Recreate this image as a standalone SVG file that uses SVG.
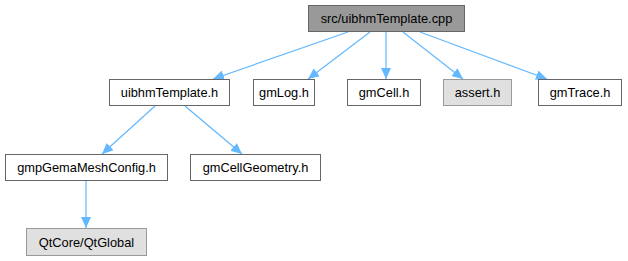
<svg xmlns="http://www.w3.org/2000/svg" width="628" height="261" viewBox="0 0 628 261">
<style>
.n rect{fill:#ffffff;stroke:#666666;stroke-width:1}
.g rect{fill:#e0e0e0;stroke:#999999;stroke-width:1}
.t rect{fill:#999999;stroke:#666666;stroke-width:1}
text{font-family:"Liberation Sans",Arial,sans-serif;font-size:12.8px;fill:#000000;text-anchor:middle}
.e line{stroke:#63b8ff;stroke-width:1.2;marker-end:url(#ah)}
</style>
<defs>
<marker id="ah" markerUnits="userSpaceOnUse" markerWidth="12" markerHeight="10" refX="11" refY="5" orient="auto">
<path d="M0,0 L11,5 L0,10 z" fill="#63b8ff"/>
</marker>
</defs>
<rect width="628" height="261" fill="#ffffff"/>
<g id="edges" class="e">
<line x1="348" y1="32" x2="213" y2="79"/>
<line x1="370" y1="32" x2="308" y2="79"/>
<line x1="386" y1="32" x2="386" y2="79"/>
<line x1="403" y1="32" x2="463" y2="79"/>
<line x1="420" y1="32" x2="547" y2="79"/>
<line x1="155" y1="106" x2="102" y2="154"/>
<line x1="185" y1="106" x2="242" y2="154"/>
<line x1="86" y1="181" x2="86" y2="228"/>
</g>
<g id="src_uibhmTemplate_cpp" class="t"><rect x="308.5" y="5.5" width="156" height="26"/><text x="386.5" y="23">src/uibhmTemplate.cpp</text></g>
<g id="uibhmTemplate_h" class="n"><rect x="109.5" y="79.5" width="120" height="26"/><text x="169.5" y="97">uibhmTemplate.h</text></g>
<g id="gmLog_h" class="n"><rect x="253.5" y="79.5" width="61" height="26"/><text x="284" y="97">gmLog.h</text></g>
<g id="gmCell_h" class="n"><rect x="347.5" y="79.5" width="73" height="26"/><text x="384" y="97">gmCell.h</text></g>
<g id="assert_h" class="g"><rect x="443.5" y="79.5" width="68" height="26"/><text x="477.5" y="97">assert.h</text></g>
<g id="gmTrace_h" class="n"><rect x="538.5" y="79.5" width="83" height="26"/><text x="580" y="97">gmTrace.h</text></g>
<g id="gmpGemaMeshConfig_h" class="n"><rect x="5.5" y="154.5" width="162" height="26"/><text x="86.5" y="172">gmpGemaMeshConfig.h</text></g>
<g id="gmCellGeometry_h" class="n"><rect x="190.5" y="154.5" width="130" height="26"/><text x="255.5" y="172">gmCellGeometry.h</text></g>
<g id="QtCore_QtGlobal" class="g"><rect x="26.5" y="228.5" width="120" height="27"/><text x="86.5" y="247">QtCore/QtGlobal</text></g>
</svg>
